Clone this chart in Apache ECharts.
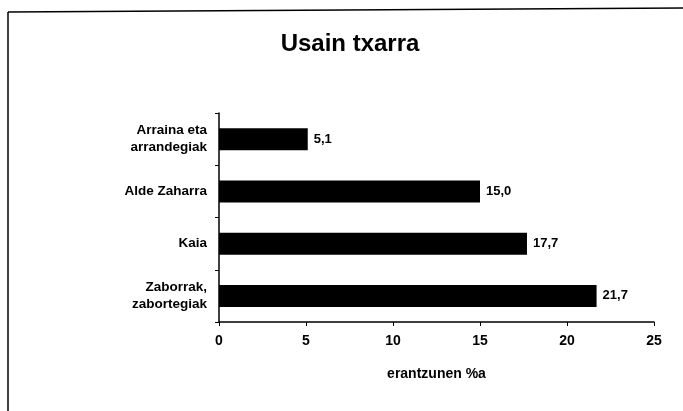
<!DOCTYPE html>
<html>
<head>
<meta charset="utf-8">
<script src="https://cdn.jsdelivr.net/npm/echarts@6/dist/echarts.min.js"></script>
<style>
  html, body { margin: 0; padding: 0; background: #fff; }
  #chart { width: 683px; height: 411px; }
</style>
</head>
<body>
<div id="chart"></div>
<script>
// data
var categories = ['Arraina eta\narrandegiak', 'Alde Zaharra', 'Kaia', 'Zaborrak,\nzabortegiak'];
var values = [5.1, 15.0, 17.7, 21.7];
var xTicks = [0, 5, 10, 15, 20, 25];

var fontFam = '"Liberation Sans", Arial, sans-serif';

var myChart = echarts.init(document.getElementById('chart'));
var option = {
  backgroundColor: '#fff',
  animation: false,
  title: {
    text: 'Usain txarra',
    left: 345,
    textAlign: 'center',
    top: 27,
    textStyle: { fontFamily: fontFam, fontSize: 24, fontWeight: 'bold', color: '#000' }
  },
  graphic: [
    { type: 'line', shape: { x1: 8, y1: 12, x2: 683, y2: 8 }, style: { stroke: '#000', lineWidth: 1.5 } },
    { type: 'line', shape: { x1: 8, y1: 12, x2: 8, y2: 411 }, style: { stroke: '#000', lineWidth: 1.5 } }
  ],
  grid: { left: 219, right: 29, top: 113, bottom: 89 },
  xAxis: {
    type: 'value',
    min: xTicks[0],
    max: xTicks[xTicks.length - 1],
    interval: 5,
    name: 'erantzunen %a',
    nameLocation: 'middle',
    nameGap: 45,
    nameTextStyle: { fontFamily: fontFam, fontSize: 14, fontWeight: 'bold', color: '#000' },
    axisLine: { show: true, lineStyle: { color: '#000', width: 1.5 } },
    axisTick: { show: true, length: 4, inside: false, lineStyle: { color: '#000' } },
    axisLabel: { fontFamily: fontFam, fontSize: 14, fontWeight: 'bold', color: '#000', margin: 12 },
    splitLine: { show: false }
  },
  yAxis: {
    type: 'category',
    data: categories,
    inverse: true,
    axisLine: { show: true, lineStyle: { color: '#000', width: 1.5 } },
    axisTick: { show: true, length: 4, lineStyle: { color: '#000' } },
    axisLabel: { fontFamily: fontFam, fontSize: 13.5, fontWeight: 'bold', color: '#000', margin: 12, lineHeight: 17, align: 'right' }
  },
  series: [{
    type: 'bar',
    data: values,
    barWidth: 22,
    itemStyle: { color: '#000' },
    label: {
      show: true,
      position: 'right',
      distance: 6,
      fontFamily: fontFam,
      fontSize: 13,
      fontWeight: 'bold',
      color: '#000',
      formatter: function (p) { return p.value.toFixed(1).replace('.', ','); }
    }
  }]
};
myChart.setOption(option);
</script>
</body>
</html>
